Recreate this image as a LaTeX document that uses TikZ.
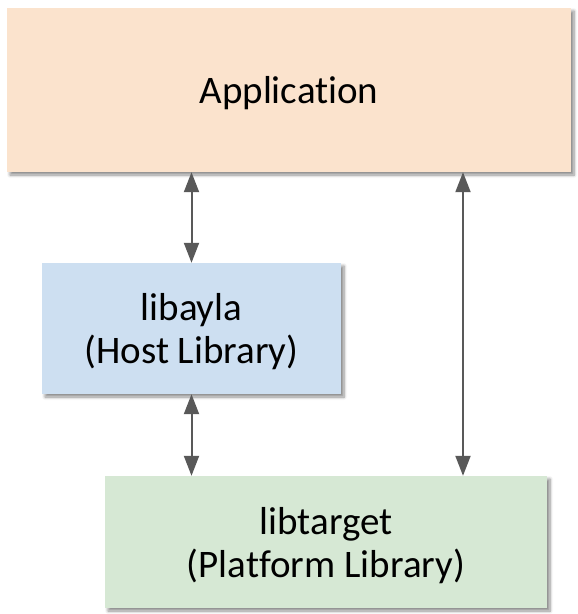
\documentclass[tikz,border=0pt]{standalone}
\usepackage{fontspec}
\setmainfont{Carlito}[Ligatures={NoCommon}]
\usetikzlibrary{arrows.meta,shadows.blur}
\definecolor{appfill}{HTML}{FBE3CD}
\definecolor{hostfill}{HTML}{CDDFF1}
\definecolor{platfill}{HTML}{D6E8D4}
\definecolor{arrgray}{HTML}{595959}
\newcommand\dnstrut{\rule{0pt}{34pt}}
\tikzset{
  box/.style={rectangle, inner sep=0pt, align=center,
    font=\fontsize{39}{43}\selectfont,
    blur shadow={shadow xshift=3pt, shadow yshift=-3pt, shadow blur steps=6, shadow blur radius=3pt, shadow opacity=45}},
  arr/.style={draw=arrgray, line width=2pt, {Triangle[length=20pt,width=15pt]}-{Triangle[length=20pt,width=15pt]}}
}
\begin{document}
\begin{tikzpicture}[x=1pt,y=-1pt]
\useasboundingbox (0,0) rectangle (578,614);
\node[box, fill=appfill, minimum width=564pt, minimum height=164pt] (app) at (289,90) {\dnstrut Application};
\node[box, fill=hostfill, minimum width=299pt, minimum height=131pt] (host) at (191.5,328.5) {\dnstrut libayla\\(Host Library)};
\node[box, fill=platfill, minimum width=442pt, minimum height=132pt] (plat) at (326,542) {\dnstrut libtarget\\(Platform Library)};
\coordinate (r) at (463,0);
\draw[arr] (host.north |- app.south) -- (host.north);
\draw[arr] (host.south) -- (host.south |- plat.north);
\draw[arr] (r |- app.south) -- (r |- plat.north);
\end{tikzpicture}
\end{document}
